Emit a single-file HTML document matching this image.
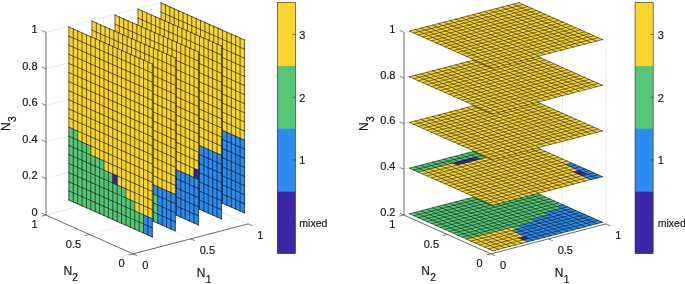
<!DOCTYPE html>
<html><head><meta charset="utf-8"><title>Slices</title>
<style>
html,body{margin:0;padding:0;background:#fff;}
svg{display:block;}
text{font-family:"Liberation Sans",sans-serif;font-size:11px;fill:#1a1a1a;stroke:#1a1a1a;stroke-width:0.2px;}
</style></head><body>
<svg width="685" height="284" viewBox="0 0 685 284">
<rect width="685" height="284" fill="#fff"/>
<line x1="45.9" y1="215" x2="161.1" y2="185" stroke="#dcdcdc" stroke-width="0.5"/>
<line x1="161.1" y1="185" x2="248.2" y2="223.9" stroke="#dcdcdc" stroke-width="0.5"/>
<line x1="45.9" y1="178.46" x2="161.1" y2="148.46" stroke="#dcdcdc" stroke-width="0.5"/>
<line x1="161.1" y1="148.46" x2="248.2" y2="187.36" stroke="#dcdcdc" stroke-width="0.5"/>
<line x1="45.9" y1="141.92" x2="161.1" y2="111.92" stroke="#dcdcdc" stroke-width="0.5"/>
<line x1="161.1" y1="111.92" x2="248.2" y2="150.82" stroke="#dcdcdc" stroke-width="0.5"/>
<line x1="45.9" y1="105.38" x2="161.1" y2="75.38" stroke="#dcdcdc" stroke-width="0.5"/>
<line x1="161.1" y1="75.38" x2="248.2" y2="114.28" stroke="#dcdcdc" stroke-width="0.5"/>
<line x1="45.9" y1="68.84" x2="161.1" y2="38.84" stroke="#dcdcdc" stroke-width="0.5"/>
<line x1="161.1" y1="38.84" x2="248.2" y2="77.74" stroke="#dcdcdc" stroke-width="0.5"/>
<line x1="45.9" y1="32.3" x2="161.1" y2="2.3" stroke="#dcdcdc" stroke-width="0.5"/>
<line x1="161.1" y1="2.3" x2="248.2" y2="41.2" stroke="#dcdcdc" stroke-width="0.5"/>
<line x1="45.9" y1="215" x2="45.9" y2="32.3" stroke="#dcdcdc" stroke-width="0.5"/>
<line x1="248.2" y1="223.9" x2="248.2" y2="41.2" stroke="#dcdcdc" stroke-width="0.5"/>
<line x1="133" y1="253.9" x2="45.9" y2="215" stroke="#dcdcdc" stroke-width="0.5"/>
<line x1="133" y1="253.9" x2="248.2" y2="223.9" stroke="#dcdcdc" stroke-width="0.5"/>
<line x1="103.5" y1="200" x2="103.5" y2="17.3" stroke="#dcdcdc" stroke-width="0.5"/>
<line x1="204.65" y1="204.45" x2="204.65" y2="21.75" stroke="#dcdcdc" stroke-width="0.5"/>
<line x1="190.6" y1="238.9" x2="103.5" y2="200" stroke="#dcdcdc" stroke-width="0.5"/>
<line x1="89.45" y1="234.45" x2="204.65" y2="204.45" stroke="#dcdcdc" stroke-width="0.5"/>
<line x1="161.1" y1="185" x2="161.1" y2="2.3" stroke="#dcdcdc" stroke-width="0.5"/>
<line x1="161.1" y1="185" x2="161.1" y2="2.3" stroke="#dcdcdc" stroke-width="0.5"/>
<line x1="248.2" y1="223.9" x2="161.1" y2="185" stroke="#dcdcdc" stroke-width="0.5"/>
<line x1="45.9" y1="215" x2="161.1" y2="185" stroke="#dcdcdc" stroke-width="0.5"/>
<polygon points="161.05,3 244.46,39.96 244.46,212.95 161.05,176" fill="#f9d52e"/>
<path d="M222.51 130.38L226.9 132.33L226.9 141.44L222.51 139.49ZM226.9 132.33L231.29 134.28L231.29 143.38L226.9 141.44ZM231.29 134.28L235.68 136.22L235.68 145.32L231.29 143.38ZM235.68 136.22L240.07 138.17L240.07 147.27L235.68 145.32ZM240.07 138.17L244.46 140.11L244.46 149.22L240.07 147.27ZM161.05 112.26L165.44 114.2L165.44 123.31L161.05 121.36ZM165.44 114.2L169.83 116.15L169.83 125.25L165.44 123.31ZM169.83 116.15L174.22 118.09L174.22 127.2L169.83 125.25ZM174.22 118.09L178.61 120.04L178.61 129.14L174.22 127.2ZM178.61 120.04L183 121.98L183 131.09L178.61 129.14ZM183 121.98L187.39 123.93L187.39 133.03L183 131.09ZM187.39 123.93L191.78 125.88L191.78 134.98L187.39 133.03ZM191.78 125.88L196.17 127.82L196.17 136.92L191.78 134.98ZM196.17 127.82L200.56 129.76L200.56 138.87L196.17 136.92ZM200.56 129.76L204.95 131.71L204.95 140.81L200.56 138.87ZM204.95 131.71L209.34 133.66L209.34 142.76L204.95 140.81ZM209.34 133.66L213.73 135.6L213.73 144.7L209.34 142.76ZM213.73 135.6L218.12 137.54L218.12 146.65L213.73 144.7ZM218.12 137.54L222.51 139.49L222.51 148.59L218.12 146.65ZM222.51 139.49L226.9 141.44L226.9 150.54L222.51 148.59ZM226.9 141.44L231.29 143.38L231.29 152.48L226.9 150.54ZM231.29 143.38L235.68 145.32L235.68 154.43L231.29 152.48ZM235.68 145.32L240.07 147.27L240.07 156.38L235.68 154.43ZM240.07 147.27L244.46 149.22L244.46 158.32L240.07 156.38ZM161.05 121.36L165.44 123.31L165.44 132.41L161.05 130.47ZM165.44 123.31L169.83 125.25L169.83 134.36L165.44 132.41ZM169.83 125.25L174.22 127.2L174.22 136.31L169.83 134.36ZM174.22 127.2L178.61 129.14L178.61 138.25L174.22 136.31ZM178.61 129.14L183 131.09L183 140.19L178.61 138.25ZM183 131.09L187.39 133.03L187.39 142.14L183 140.19ZM187.39 133.03L191.78 134.98L191.78 144.08L187.39 142.14ZM191.78 134.98L196.17 136.92L196.17 146.03L191.78 144.08ZM196.17 136.92L200.56 138.87L200.56 147.97L196.17 146.03ZM200.56 138.87L204.95 140.81L204.95 149.92L200.56 147.97ZM204.95 140.81L209.34 142.76L209.34 151.87L204.95 149.92ZM209.34 142.76L213.73 144.7L213.73 153.81L209.34 151.87ZM213.73 144.7L218.12 146.65L218.12 155.75L213.73 153.81ZM218.12 146.65L222.51 148.59L222.51 157.7L218.12 155.75ZM222.51 148.59L226.9 150.54L226.9 159.64L222.51 157.7ZM226.9 150.54L231.29 152.48L231.29 161.59L226.9 159.64ZM231.29 152.48L235.68 154.43L235.68 163.53L231.29 161.59ZM235.68 154.43L240.07 156.38L240.07 165.48L235.68 163.53ZM240.07 156.38L244.46 158.32L244.46 167.43L240.07 165.48ZM161.05 130.47L165.44 132.41L165.44 141.52L161.05 139.57ZM165.44 132.41L169.83 134.36L169.83 143.47L165.44 141.52ZM169.83 134.36L174.22 136.31L174.22 145.41L169.83 143.47ZM174.22 136.31L178.61 138.25L178.61 147.35L174.22 145.41ZM178.61 138.25L183 140.19L183 149.3L178.61 147.35ZM183 140.19L187.39 142.14L187.39 151.24L183 149.3ZM187.39 142.14L191.78 144.08L191.78 153.19L187.39 151.24ZM191.78 144.08L196.17 146.03L196.17 155.13L191.78 153.19ZM196.17 146.03L200.56 147.97L200.56 157.08L196.17 155.13ZM200.56 147.97L204.95 149.92L204.95 159.03L200.56 157.08ZM204.95 149.92L209.34 151.87L209.34 160.97L204.95 159.03ZM209.34 151.87L213.73 153.81L213.73 162.91L209.34 160.97ZM213.73 153.81L218.12 155.75L218.12 164.86L213.73 162.91ZM218.12 155.75L222.51 157.7L222.51 166.8L218.12 164.86ZM222.51 157.7L226.9 159.64L226.9 168.75L222.51 166.8ZM226.9 159.64L231.29 161.59L231.29 170.69L226.9 168.75ZM231.29 161.59L235.68 163.53L235.68 172.64L231.29 170.69ZM235.68 163.53L240.07 165.48L240.07 174.59L235.68 172.64ZM240.07 165.48L244.46 167.43L244.46 176.53L240.07 174.59ZM161.05 139.57L165.44 141.52L165.44 150.62L161.05 148.68ZM165.44 141.52L169.83 143.47L169.83 152.57L165.44 150.62ZM169.83 143.47L174.22 145.41L174.22 154.51L169.83 152.57ZM174.22 145.41L178.61 147.35L178.61 156.46L174.22 154.51ZM178.61 147.35L183 149.3L183 158.4L178.61 156.46ZM183 149.3L187.39 151.24L187.39 160.35L183 158.4ZM187.39 151.24L191.78 153.19L191.78 162.3L187.39 160.35ZM191.78 153.19L196.17 155.13L196.17 164.24L191.78 162.3ZM196.17 155.13L200.56 157.08L200.56 166.19L196.17 164.24ZM200.56 157.08L204.95 159.03L204.95 168.13L200.56 166.19ZM204.95 159.03L209.34 160.97L209.34 170.07L204.95 168.13ZM209.34 160.97L213.73 162.91L213.73 172.02L209.34 170.07ZM213.73 162.91L218.12 164.86L218.12 173.96L213.73 172.02ZM218.12 164.86L222.51 166.8L222.51 175.91L218.12 173.96ZM222.51 166.8L226.9 168.75L226.9 177.86L222.51 175.91ZM226.9 168.75L231.29 170.69L231.29 179.8L226.9 177.86ZM231.29 170.69L235.68 172.64L235.68 181.75L231.29 179.8ZM235.68 172.64L240.07 174.59L240.07 183.69L235.68 181.75ZM240.07 174.59L244.46 176.53L244.46 185.63L240.07 183.69ZM161.05 148.68L165.44 150.62L165.44 159.73L161.05 157.78ZM165.44 150.62L169.83 152.57L169.83 161.68L165.44 159.73ZM169.83 152.57L174.22 154.51L174.22 163.62L169.83 161.68ZM174.22 154.51L178.61 156.46L178.61 165.56L174.22 163.62ZM178.61 156.46L183 158.4L183 167.51L178.61 165.56ZM183 158.4L187.39 160.35L187.39 169.45L183 167.51ZM187.39 160.35L191.78 162.3L191.78 171.4L187.39 169.45ZM191.78 162.3L196.17 164.24L196.17 173.34L191.78 171.4ZM196.17 164.24L200.56 166.19L200.56 175.29L196.17 173.34ZM200.56 166.19L204.95 168.13L204.95 177.24L200.56 175.29ZM204.95 168.13L209.34 170.07L209.34 179.18L204.95 177.24ZM209.34 170.07L213.73 172.02L213.73 181.12L209.34 179.18ZM213.73 172.02L218.12 173.96L218.12 183.07L213.73 181.12ZM218.12 173.96L222.51 175.91L222.51 185.01L218.12 183.07ZM222.51 175.91L226.9 177.86L226.9 186.96L222.51 185.01ZM226.9 177.86L231.29 179.8L231.29 188.91L226.9 186.96ZM231.29 179.8L235.68 181.75L235.68 190.85L231.29 188.91ZM235.68 181.75L240.07 183.69L240.07 192.8L235.68 190.85ZM240.07 183.69L244.46 185.63L244.46 194.74L240.07 192.8ZM161.05 157.78L165.44 159.73L165.44 168.83L161.05 166.89ZM165.44 159.73L169.83 161.68L169.83 170.78L165.44 168.83ZM169.83 161.68L174.22 163.62L174.22 172.72L169.83 170.78ZM174.22 163.62L178.61 165.56L178.61 174.67L174.22 172.72ZM178.61 165.56L183 167.51L183 176.61L178.61 174.67ZM183 167.51L187.39 169.45L187.39 178.56L183 176.61ZM187.39 169.45L191.78 171.4L191.78 180.5L187.39 178.56ZM191.78 171.4L196.17 173.34L196.17 182.45L191.78 180.5ZM196.17 173.34L200.56 175.29L200.56 184.39L196.17 182.45ZM200.56 175.29L204.95 177.24L204.95 186.34L200.56 184.39ZM204.95 177.24L209.34 179.18L209.34 188.28L204.95 186.34ZM209.34 179.18L213.73 181.12L213.73 190.23L209.34 188.28ZM213.73 181.12L218.12 183.07L218.12 192.17L213.73 190.23ZM218.12 183.07L222.51 185.01L222.51 194.12L218.12 192.17ZM222.51 185.01L226.9 186.96L226.9 196.06L222.51 194.12ZM226.9 186.96L231.29 188.91L231.29 198.01L226.9 196.06ZM231.29 188.91L235.68 190.85L235.68 199.95L231.29 198.01ZM235.68 190.85L240.07 192.8L240.07 201.9L235.68 199.95ZM240.07 192.8L244.46 194.74L244.46 203.84L240.07 201.9ZM161.05 166.89L165.44 168.83L165.44 177.94L161.05 176ZM165.44 168.83L169.83 170.78L169.83 179.89L165.44 177.94ZM169.83 170.78L174.22 172.72L174.22 181.83L169.83 179.89ZM174.22 172.72L178.61 174.67L178.61 183.78L174.22 181.83ZM178.61 174.67L183 176.61L183 185.72L178.61 183.78ZM183 176.61L187.39 178.56L187.39 187.66L183 185.72ZM187.39 178.56L191.78 180.5L191.78 189.61L187.39 187.66ZM191.78 180.5L196.17 182.45L196.17 191.56L191.78 189.61ZM196.17 182.45L200.56 184.39L200.56 193.5L196.17 191.56ZM200.56 184.39L204.95 186.34L204.95 195.45L200.56 193.5ZM204.95 186.34L209.34 188.28L209.34 197.39L204.95 195.45ZM209.34 188.28L213.73 190.23L213.73 199.34L209.34 197.39ZM213.73 190.23L218.12 192.17L218.12 201.28L213.73 199.34ZM218.12 192.17L222.51 194.12L222.51 203.22L218.12 201.28ZM222.51 194.12L226.9 196.06L226.9 205.17L222.51 203.22ZM226.9 196.06L231.29 198.01L231.29 207.12L226.9 205.17ZM231.29 198.01L235.68 199.95L235.68 209.06L231.29 207.12ZM235.68 199.95L240.07 201.9L240.07 211.01L235.68 209.06ZM240.07 201.9L244.46 203.84L244.46 212.95L240.07 211.01Z" fill="#2d8cf0" stroke="#2d8cf0" stroke-width="0.3"/>
<path d="M244.46 212.95L161.05 176M244.46 203.84L161.05 166.89M244.46 194.74L161.05 157.78M244.46 185.63L161.05 148.68M244.46 176.53L161.05 139.57M244.46 167.43L161.05 130.47M244.46 158.32L161.05 121.36M244.46 149.22L161.05 112.26M244.46 140.11L161.05 103.16M244.46 131L161.05 94.05M244.46 121.9L161.05 84.94M244.46 112.79L161.05 75.84M244.46 103.69L161.05 66.73M244.46 94.58L161.05 57.63M244.46 85.48L161.05 48.53M244.46 76.38L161.05 39.42M244.46 67.27L161.05 30.31M244.46 58.17L161.05 21.21M244.46 49.06L161.05 12.1M244.46 39.96L161.05 3M244.46 212.95L244.46 39.96M240.07 211.01L240.07 38.01M235.68 209.06L235.68 36.06M231.29 207.12L231.29 34.12M226.9 205.17L226.9 32.18M222.51 203.22L222.51 30.23M218.12 201.28L218.12 28.28M213.73 199.34L213.73 26.34M209.34 197.39L209.34 24.4M204.95 195.45L204.95 22.45M200.56 193.5L200.56 20.5M196.17 191.56L196.17 18.56M191.78 189.61L191.78 16.62M187.39 187.66L187.39 14.67M183 185.72L183 12.72M178.61 183.78L178.61 10.78M174.22 181.83L174.22 8.84M169.83 179.89L169.83 6.89M165.44 177.94L165.44 4.94M161.05 176L161.05 3" fill="none" stroke="#000" stroke-width="0.6" stroke-linecap="square"/>
<polygon points="138.01,9 221.42,45.96 221.42,218.95 138.01,182" fill="#f9d52e"/>
<path d="M199.47 145.49L203.86 147.44L203.86 156.54L199.47 154.59ZM203.86 147.44L208.25 149.38L208.25 158.48L203.86 156.54ZM208.25 149.38L212.64 151.32L212.64 160.43L208.25 158.48ZM212.64 151.32L217.03 153.27L217.03 162.38L212.64 160.43ZM217.03 153.27L221.42 155.22L221.42 164.32L217.03 162.38ZM138.01 127.36L142.4 129.31L142.4 138.41L138.01 136.47ZM142.4 129.31L146.79 131.25L146.79 140.36L142.4 138.41ZM146.79 131.25L151.18 133.2L151.18 142.31L146.79 140.36ZM151.18 133.2L155.57 135.14L155.57 144.25L151.18 142.31ZM155.57 135.14L159.96 137.09L159.96 146.19L155.57 144.25ZM159.96 137.09L164.35 139.03L164.35 148.14L159.96 146.19ZM164.35 139.03L168.74 140.98L168.74 150.08L164.35 148.14ZM168.74 140.98L173.13 142.92L173.13 152.03L168.74 150.08ZM173.13 142.92L177.52 144.87L177.52 153.97L173.13 152.03ZM177.52 144.87L181.91 146.81L181.91 155.92L177.52 153.97ZM181.91 146.81L186.3 148.76L186.3 157.87L181.91 155.92ZM186.3 148.76L190.69 150.7L190.69 159.81L186.3 157.87ZM190.69 150.7L195.08 152.65L195.08 161.75L190.69 159.81ZM195.08 152.65L199.47 154.59L199.47 163.7L195.08 161.75ZM199.47 154.59L203.86 156.54L203.86 165.64L199.47 163.7ZM203.86 156.54L208.25 158.48L208.25 167.59L203.86 165.64ZM208.25 158.48L212.64 160.43L212.64 169.53L208.25 167.59ZM212.64 160.43L217.03 162.38L217.03 171.48L212.64 169.53ZM217.03 162.38L221.42 164.32L221.42 173.43L217.03 171.48ZM138.01 136.47L142.4 138.41L142.4 147.52L138.01 145.57ZM142.4 138.41L146.79 140.36L146.79 149.47L142.4 147.52ZM146.79 140.36L151.18 142.31L151.18 151.41L146.79 149.47ZM151.18 142.31L155.57 144.25L155.57 153.35L151.18 151.41ZM155.57 144.25L159.96 146.19L159.96 155.3L155.57 153.35ZM159.96 146.19L164.35 148.14L164.35 157.24L159.96 155.3ZM164.35 148.14L168.74 150.08L168.74 159.19L164.35 157.24ZM168.74 150.08L173.13 152.03L173.13 161.13L168.74 159.19ZM173.13 152.03L177.52 153.97L177.52 163.08L173.13 161.13ZM177.52 153.97L181.91 155.92L181.91 165.03L177.52 163.08ZM181.91 155.92L186.3 157.87L186.3 166.97L181.91 165.03ZM186.3 157.87L190.69 159.81L190.69 168.91L186.3 166.97ZM190.69 159.81L195.08 161.75L195.08 170.86L190.69 168.91ZM195.08 161.75L199.47 163.7L199.47 172.8L195.08 170.86ZM199.47 163.7L203.86 165.64L203.86 174.75L199.47 172.8ZM203.86 165.64L208.25 167.59L208.25 176.69L203.86 174.75ZM208.25 167.59L212.64 169.53L212.64 178.64L208.25 176.69ZM212.64 169.53L217.03 171.48L217.03 180.59L212.64 178.64ZM217.03 171.48L221.42 173.43L221.42 182.53L217.03 180.59ZM138.01 145.57L142.4 147.52L142.4 156.62L138.01 154.68ZM142.4 147.52L146.79 149.47L146.79 158.57L142.4 156.62ZM146.79 149.47L151.18 151.41L151.18 160.51L146.79 158.57ZM151.18 151.41L155.57 153.35L155.57 162.46L151.18 160.51ZM155.57 153.35L159.96 155.3L159.96 164.4L155.57 162.46ZM159.96 155.3L164.35 157.24L164.35 166.35L159.96 164.4ZM164.35 157.24L168.74 159.19L168.74 168.3L164.35 166.35ZM168.74 159.19L173.13 161.13L173.13 170.24L168.74 168.3ZM173.13 161.13L177.52 163.08L177.52 172.19L173.13 170.24ZM177.52 163.08L181.91 165.03L181.91 174.13L177.52 172.19ZM181.91 165.03L186.3 166.97L186.3 176.07L181.91 174.13ZM186.3 166.97L190.69 168.91L190.69 178.02L186.3 176.07ZM190.69 168.91L195.08 170.86L195.08 179.96L190.69 178.02ZM195.08 170.86L199.47 172.8L199.47 181.91L195.08 179.96ZM199.47 172.8L203.86 174.75L203.86 183.86L199.47 181.91ZM203.86 174.75L208.25 176.69L208.25 185.8L203.86 183.86ZM208.25 176.69L212.64 178.64L212.64 187.75L208.25 185.8ZM212.64 178.64L217.03 180.59L217.03 189.69L212.64 187.75ZM217.03 180.59L221.42 182.53L221.42 191.63L217.03 189.69ZM138.01 154.68L142.4 156.62L142.4 165.73L138.01 163.78ZM142.4 156.62L146.79 158.57L146.79 167.68L142.4 165.73ZM146.79 158.57L151.18 160.51L151.18 169.62L146.79 167.68ZM151.18 160.51L155.57 162.46L155.57 171.56L151.18 169.62ZM155.57 162.46L159.96 164.4L159.96 173.51L155.57 171.56ZM159.96 164.4L164.35 166.35L164.35 175.45L159.96 173.51ZM164.35 166.35L168.74 168.3L168.74 177.4L164.35 175.45ZM168.74 168.3L173.13 170.24L173.13 179.34L168.74 177.4ZM173.13 170.24L177.52 172.19L177.52 181.29L173.13 179.34ZM177.52 172.19L181.91 174.13L181.91 183.24L177.52 181.29ZM181.91 174.13L186.3 176.07L186.3 185.18L181.91 183.24ZM186.3 176.07L190.69 178.02L190.69 187.12L186.3 185.18ZM190.69 178.02L195.08 179.96L195.08 189.07L190.69 187.12ZM195.08 179.96L199.47 181.91L199.47 191.01L195.08 189.07ZM199.47 181.91L203.86 183.86L203.86 192.96L199.47 191.01ZM203.86 183.86L208.25 185.8L208.25 194.91L203.86 192.96ZM208.25 185.8L212.64 187.75L212.64 196.85L208.25 194.91ZM212.64 187.75L217.03 189.69L217.03 198.8L212.64 196.85ZM217.03 189.69L221.42 191.63L221.42 200.74L217.03 198.8ZM138.01 163.78L142.4 165.73L142.4 174.83L138.01 172.89ZM142.4 165.73L146.79 167.68L146.79 176.78L142.4 174.83ZM146.79 167.68L151.18 169.62L151.18 178.72L146.79 176.78ZM151.18 169.62L155.57 171.56L155.57 180.67L151.18 178.72ZM155.57 171.56L159.96 173.51L159.96 182.61L155.57 180.67ZM159.96 173.51L164.35 175.45L164.35 184.56L159.96 182.61ZM164.35 175.45L168.74 177.4L168.74 186.5L164.35 184.56ZM168.74 177.4L173.13 179.34L173.13 188.45L168.74 186.5ZM173.13 179.34L177.52 181.29L177.52 190.39L173.13 188.45ZM177.52 181.29L181.91 183.24L181.91 192.34L177.52 190.39ZM181.91 183.24L186.3 185.18L186.3 194.28L181.91 192.34ZM186.3 185.18L190.69 187.12L190.69 196.23L186.3 194.28ZM190.69 187.12L195.08 189.07L195.08 198.17L190.69 196.23ZM195.08 189.07L199.47 191.01L199.47 200.12L195.08 198.17ZM199.47 191.01L203.86 192.96L203.86 202.06L199.47 200.12ZM203.86 192.96L208.25 194.91L208.25 204.01L203.86 202.06ZM208.25 194.91L212.64 196.85L212.64 205.95L208.25 204.01ZM212.64 196.85L217.03 198.8L217.03 207.9L212.64 205.95ZM217.03 198.8L221.42 200.74L221.42 209.84L217.03 207.9ZM138.01 172.89L142.4 174.83L142.4 183.94L138.01 182ZM142.4 174.83L146.79 176.78L146.79 185.89L142.4 183.94ZM146.79 176.78L151.18 178.72L151.18 187.83L146.79 185.89ZM151.18 178.72L155.57 180.67L155.57 189.78L151.18 187.83ZM155.57 180.67L159.96 182.61L159.96 191.72L155.57 189.78ZM159.96 182.61L164.35 184.56L164.35 193.66L159.96 191.72ZM164.35 184.56L168.74 186.5L168.74 195.61L164.35 193.66ZM168.74 186.5L173.13 188.45L173.13 197.56L168.74 195.61ZM173.13 188.45L177.52 190.39L177.52 199.5L173.13 197.56ZM177.52 190.39L181.91 192.34L181.91 201.45L177.52 199.5ZM181.91 192.34L186.3 194.28L186.3 203.39L181.91 201.45ZM186.3 194.28L190.69 196.23L190.69 205.34L186.3 203.39ZM190.69 196.23L195.08 198.17L195.08 207.28L190.69 205.34ZM195.08 198.17L199.47 200.12L199.47 209.22L195.08 207.28ZM199.47 200.12L203.86 202.06L203.86 211.17L199.47 209.22ZM203.86 202.06L208.25 204.01L208.25 213.12L203.86 211.17ZM208.25 204.01L212.64 205.95L212.64 215.06L208.25 213.12ZM212.64 205.95L217.03 207.9L217.03 217.01L212.64 215.06ZM217.03 207.9L221.42 209.84L221.42 218.95L217.03 217.01Z" fill="#2d8cf0" stroke="#2d8cf0" stroke-width="0.3"/>
<path d="M221.42 218.95L138.01 182M221.42 209.84L138.01 172.89M221.42 200.74L138.01 163.78M221.42 191.63L138.01 154.68M221.42 182.53L138.01 145.57M221.42 173.43L138.01 136.47M221.42 164.32L138.01 127.36M221.42 155.22L138.01 118.26M221.42 146.11L138.01 109.16M221.42 137L138.01 100.05M221.42 127.9L138.01 90.94M221.42 118.79L138.01 81.84M221.42 109.69L138.01 72.73M221.42 100.58L138.01 63.63M221.42 91.48L138.01 54.53M221.42 82.38L138.01 45.42M221.42 73.27L138.01 36.31M221.42 64.17L138.01 27.21M221.42 55.06L138.01 18.1M221.42 45.96L138.01 9M221.42 218.95L221.42 45.96M217.03 217.01L217.03 44.01M212.64 215.06L212.64 42.06M208.25 213.12L208.25 40.12M203.86 211.17L203.86 38.18M199.47 209.22L199.47 36.23M195.08 207.28L195.08 34.28M190.69 205.34L190.69 32.34M186.3 203.39L186.3 30.4M181.91 201.45L181.91 28.45M177.52 199.5L177.52 26.5M173.13 197.56L173.13 24.56M168.74 195.61L168.74 22.62M164.35 193.66L164.35 20.67M159.96 191.72L159.96 18.72M155.57 189.78L155.57 16.78M151.18 187.83L151.18 14.84M146.79 185.89L146.79 12.89M142.4 183.94L142.4 10.94M138.01 182L138.01 9" fill="none" stroke="#000" stroke-width="0.6" stroke-linecap="square"/>
<polygon points="114.97,15 198.38,51.96 198.38,224.95 114.97,188" fill="#f9d52e"/>
<path d="M193.99 168.38L198.38 170.32L198.38 179.43L193.99 177.48Z" fill="#3d26a8" stroke="#3d26a8" stroke-width="0.3"/>
<path d="M158.87 161.92L163.26 163.87L163.26 172.97L158.87 171.03ZM163.26 163.87L167.65 165.81L167.65 174.91L163.26 172.97ZM167.65 165.81L172.04 167.75L172.04 176.86L167.65 174.91ZM172.04 167.75L176.43 169.7L176.43 178.8L172.04 176.86ZM176.43 169.7L180.82 171.64L180.82 180.75L176.43 178.8ZM180.82 171.64L185.21 173.59L185.21 182.69L180.82 180.75ZM185.21 173.59L189.6 175.53L189.6 184.64L185.21 182.69ZM189.6 175.53L193.99 177.48L193.99 186.59L189.6 184.64ZM193.99 177.48L198.38 179.43L198.38 188.53L193.99 186.59ZM158.87 171.03L163.26 172.97L163.26 182.07L158.87 180.13ZM163.26 172.97L167.65 174.91L167.65 184.02L163.26 182.07ZM167.65 174.91L172.04 176.86L172.04 185.96L167.65 184.02ZM172.04 176.86L176.43 178.8L176.43 187.91L172.04 185.96ZM176.43 178.8L180.82 180.75L180.82 189.86L176.43 187.91ZM180.82 180.75L185.21 182.69L185.21 191.8L180.82 189.86ZM185.21 182.69L189.6 184.64L189.6 193.75L185.21 191.8ZM189.6 184.64L193.99 186.59L193.99 195.69L189.6 193.75ZM193.99 186.59L198.38 188.53L198.38 197.63L193.99 195.69ZM158.87 180.13L163.26 182.07L163.26 191.18L158.87 189.24ZM163.26 182.07L167.65 184.02L167.65 193.12L163.26 191.18ZM167.65 184.02L172.04 185.96L172.04 195.07L167.65 193.12ZM172.04 185.96L176.43 187.91L176.43 197.01L172.04 195.07ZM176.43 187.91L180.82 189.86L180.82 198.96L176.43 197.01ZM180.82 189.86L185.21 191.8L185.21 200.91L180.82 198.96ZM185.21 191.8L189.6 193.75L189.6 202.85L185.21 200.91ZM189.6 193.75L193.99 195.69L193.99 204.8L189.6 202.85ZM193.99 195.69L198.38 197.63L198.38 206.74L193.99 204.8ZM158.87 189.24L163.26 191.18L163.26 200.28L158.87 198.34ZM163.26 191.18L167.65 193.12L167.65 202.23L163.26 200.28ZM167.65 193.12L172.04 195.07L172.04 204.17L167.65 202.23ZM172.04 195.07L176.43 197.01L176.43 206.12L172.04 204.17ZM176.43 197.01L180.82 198.96L180.82 208.06L176.43 206.12ZM180.82 198.96L185.21 200.91L185.21 210.01L180.82 208.06ZM185.21 200.91L189.6 202.85L189.6 211.95L185.21 210.01ZM189.6 202.85L193.99 204.8L193.99 213.9L189.6 211.95ZM193.99 204.8L198.38 206.74L198.38 215.84L193.99 213.9ZM158.87 198.34L163.26 200.28L163.26 209.39L158.87 207.45ZM163.26 200.28L167.65 202.23L167.65 211.34L163.26 209.39ZM167.65 202.23L172.04 204.17L172.04 213.28L167.65 211.34ZM172.04 204.17L176.43 206.12L176.43 215.22L172.04 213.28ZM176.43 206.12L180.82 208.06L180.82 217.17L176.43 215.22ZM180.82 208.06L185.21 210.01L185.21 219.12L180.82 217.17ZM185.21 210.01L189.6 211.95L189.6 221.06L185.21 219.12ZM189.6 211.95L193.99 213.9L193.99 223.01L189.6 221.06ZM193.99 213.9L198.38 215.84L198.38 224.95L193.99 223.01Z" fill="#2d8cf0" stroke="#2d8cf0" stroke-width="0.3"/>
<path d="M114.97 151.57L119.36 153.52L119.36 162.62L114.97 160.68ZM119.36 153.52L123.75 155.47L123.75 164.57L119.36 162.62ZM123.75 155.47L128.14 157.41L128.14 166.51L123.75 164.57ZM128.14 157.41L132.53 159.35L132.53 168.46L128.14 166.51ZM132.53 159.35L136.92 161.3L136.92 170.4L132.53 168.46ZM136.92 161.3L141.31 163.24L141.31 172.35L136.92 170.4ZM141.31 163.24L145.7 165.19L145.7 174.3L141.31 172.35ZM145.7 165.19L150.09 167.13L150.09 176.24L145.7 174.3ZM150.09 167.13L154.48 169.08L154.48 178.19L150.09 176.24ZM154.48 169.08L158.87 171.03L158.87 180.13L154.48 178.19ZM114.97 160.68L119.36 162.62L119.36 171.73L114.97 169.78ZM119.36 162.62L123.75 164.57L123.75 173.68L119.36 171.73ZM123.75 164.57L128.14 166.51L128.14 175.62L123.75 173.68ZM128.14 166.51L132.53 168.46L132.53 177.56L128.14 175.62ZM132.53 168.46L136.92 170.4L136.92 179.51L132.53 177.56ZM136.92 170.4L141.31 172.35L141.31 181.45L136.92 179.51ZM141.31 172.35L145.7 174.3L145.7 183.4L141.31 181.45ZM145.7 174.3L150.09 176.24L150.09 185.34L145.7 183.4ZM150.09 176.24L154.48 178.19L154.48 187.29L150.09 185.34ZM154.48 178.19L158.87 180.13L158.87 189.24L154.48 187.29ZM114.97 169.78L119.36 171.73L119.36 180.83L114.97 178.89ZM119.36 171.73L123.75 173.68L123.75 182.78L119.36 180.83ZM123.75 173.68L128.14 175.62L128.14 184.72L123.75 182.78ZM128.14 175.62L132.53 177.56L132.53 186.67L128.14 184.72ZM132.53 177.56L136.92 179.51L136.92 188.61L132.53 186.67ZM136.92 179.51L141.31 181.45L141.31 190.56L136.92 188.61ZM141.31 181.45L145.7 183.4L145.7 192.5L141.31 190.56ZM145.7 183.4L150.09 185.34L150.09 194.45L145.7 192.5ZM150.09 185.34L154.48 187.29L154.48 196.39L150.09 194.45ZM154.48 187.29L158.87 189.24L158.87 198.34L154.48 196.39ZM114.97 178.89L119.36 180.83L119.36 189.94L114.97 188ZM119.36 180.83L123.75 182.78L123.75 191.89L119.36 189.94ZM123.75 182.78L128.14 184.72L128.14 193.83L123.75 191.89ZM128.14 184.72L132.53 186.67L132.53 195.78L128.14 193.83ZM132.53 186.67L136.92 188.61L136.92 197.72L132.53 195.78ZM136.92 188.61L141.31 190.56L141.31 199.66L136.92 197.72ZM141.31 190.56L145.7 192.5L145.7 201.61L141.31 199.66ZM145.7 192.5L150.09 194.45L150.09 203.56L145.7 201.61ZM150.09 194.45L154.48 196.39L154.48 205.5L150.09 203.56ZM154.48 196.39L158.87 198.34L158.87 207.45L154.48 205.5Z" fill="#55c878" stroke="#55c878" stroke-width="0.3"/>
<path d="M198.38 224.95L114.97 188M198.38 215.84L114.97 178.89M198.38 206.74L114.97 169.78M198.38 197.63L114.97 160.68M198.38 188.53L114.97 151.57M198.38 179.43L114.97 142.47M198.38 170.32L114.97 133.36M198.38 161.22L114.97 124.26M198.38 152.11L114.97 115.16M198.38 143L114.97 106.05M198.38 133.9L114.97 96.94M198.38 124.79L114.97 87.84M198.38 115.69L114.97 78.73M198.38 106.58L114.97 69.63M198.38 97.48L114.97 60.53M198.38 88.38L114.97 51.42M198.38 79.27L114.97 42.31M198.38 70.17L114.97 33.21M198.38 61.06L114.97 24.1M198.38 51.96L114.97 15M198.38 224.95L198.38 51.96M193.99 223.01L193.99 50.01M189.6 221.06L189.6 48.06M185.21 219.12L185.21 46.12M180.82 217.17L180.82 44.18M176.43 215.22L176.43 42.23M172.04 213.28L172.04 40.28M167.65 211.34L167.65 38.34M163.26 209.39L163.26 36.4M158.87 207.45L158.87 34.45M154.48 205.5L154.48 32.5M150.09 203.56L150.09 30.56M145.7 201.61L145.7 28.62M141.31 199.66L141.31 26.67M136.92 197.72L136.92 24.72M132.53 195.78L132.53 22.78M128.14 193.83L128.14 20.84M123.75 191.89L123.75 18.89M119.36 189.94L119.36 16.94M114.97 188L114.97 15" fill="none" stroke="#000" stroke-width="0.6" stroke-linecap="square"/>
<polygon points="91.93,21 175.34,57.96 175.34,230.95 91.93,194" fill="#f9d52e"/>
<path d="M91.93 130.26L96.32 132.2L96.32 141.31L91.93 139.36ZM96.32 132.2L100.71 134.15L100.71 143.25L96.32 141.31ZM91.93 139.36L96.32 141.31L96.32 150.41L91.93 148.47ZM96.32 141.31L100.71 143.25L100.71 152.36L96.32 150.41ZM100.71 143.25L105.1 145.2L105.1 154.31L100.71 152.36ZM105.1 145.2L109.49 147.14L109.49 156.25L105.1 154.31ZM109.49 147.14L113.88 149.09L113.88 158.19L109.49 156.25ZM91.93 148.47L96.32 150.41L96.32 159.52L91.93 157.57ZM96.32 150.41L100.71 152.36L100.71 161.47L96.32 159.52ZM100.71 152.36L105.1 154.31L105.1 163.41L100.71 161.47ZM105.1 154.31L109.49 156.25L109.49 165.35L105.1 163.41ZM109.49 156.25L113.88 158.19L113.88 167.3L109.49 165.35ZM113.88 158.19L118.27 160.14L118.27 169.24L113.88 167.3ZM118.27 160.14L122.66 162.08L122.66 171.19L118.27 169.24ZM122.66 162.08L127.05 164.03L127.05 173.13L122.66 171.19ZM91.93 157.57L96.32 159.52L96.32 168.62L91.93 166.68ZM96.32 159.52L100.71 161.47L100.71 170.57L96.32 168.62ZM100.71 161.47L105.1 163.41L105.1 172.51L100.71 170.57ZM105.1 163.41L109.49 165.35L109.49 174.46L105.1 172.51ZM109.49 165.35L113.88 167.3L113.88 176.4L109.49 174.46ZM113.88 167.3L118.27 169.24L118.27 178.35L113.88 176.4ZM118.27 169.24L122.66 171.19L122.66 180.3L118.27 178.35ZM122.66 171.19L127.05 173.13L127.05 182.24L122.66 180.3ZM127.05 173.13L131.44 175.08L131.44 184.19L127.05 182.24ZM131.44 175.08L135.83 177.03L135.83 186.13L131.44 184.19ZM91.93 166.68L96.32 168.62L96.32 177.73L91.93 175.78ZM96.32 168.62L100.71 170.57L100.71 179.68L96.32 177.73ZM100.71 170.57L105.1 172.51L105.1 181.62L100.71 179.68ZM105.1 172.51L109.49 174.46L109.49 183.56L105.1 181.62ZM109.49 174.46L113.88 176.4L113.88 185.51L109.49 183.56ZM113.88 176.4L118.27 178.35L118.27 187.45L113.88 185.51ZM118.27 178.35L122.66 180.3L122.66 189.4L118.27 187.45ZM122.66 180.3L127.05 182.24L127.05 191.34L122.66 189.4ZM127.05 182.24L131.44 184.19L131.44 193.29L127.05 191.34ZM131.44 184.19L135.83 186.13L135.83 195.24L131.44 193.29ZM135.83 186.13L140.22 188.07L140.22 197.18L135.83 195.24ZM140.22 188.07L144.61 190.02L144.61 199.12L140.22 197.18ZM144.61 190.02L149 191.96L149 201.07L144.61 199.12ZM153.39 193.91L157.78 195.86L157.78 204.96L153.39 203.01ZM91.93 175.78L96.32 177.73L96.32 186.83L91.93 184.89ZM96.32 177.73L100.71 179.68L100.71 188.78L96.32 186.83ZM100.71 179.68L105.1 181.62L105.1 190.72L100.71 188.78ZM105.1 181.62L109.49 183.56L109.49 192.67L105.1 190.72ZM109.49 183.56L113.88 185.51L113.88 194.61L109.49 192.67ZM113.88 185.51L118.27 187.45L118.27 196.56L113.88 194.61ZM118.27 187.45L122.66 189.4L122.66 198.5L118.27 196.56ZM122.66 189.4L127.05 191.34L127.05 200.45L122.66 198.5ZM127.05 191.34L131.44 193.29L131.44 202.39L127.05 200.45ZM131.44 193.29L135.83 195.24L135.83 204.34L131.44 202.39ZM135.83 195.24L140.22 197.18L140.22 206.28L135.83 204.34ZM140.22 197.18L144.61 199.12L144.61 208.23L140.22 206.28ZM144.61 199.12L149 201.07L149 210.17L144.61 208.23ZM149 201.07L153.39 203.01L153.39 212.12L149 210.17ZM153.39 203.01L157.78 204.96L157.78 214.06L153.39 212.12ZM91.93 184.89L96.32 186.83L96.32 195.94L91.93 194ZM96.32 186.83L100.71 188.78L100.71 197.89L96.32 195.94ZM100.71 188.78L105.1 190.72L105.1 199.83L100.71 197.89ZM105.1 190.72L109.49 192.67L109.49 201.78L105.1 199.83ZM109.49 192.67L113.88 194.61L113.88 203.72L109.49 201.78ZM113.88 194.61L118.27 196.56L118.27 205.66L113.88 203.72ZM118.27 196.56L122.66 198.5L122.66 207.61L118.27 205.66ZM122.66 198.5L127.05 200.45L127.05 209.56L122.66 207.61ZM127.05 200.45L131.44 202.39L131.44 211.5L127.05 209.56ZM131.44 202.39L135.83 204.34L135.83 213.45L131.44 211.5ZM135.83 204.34L140.22 206.28L140.22 215.39L135.83 213.45ZM140.22 206.28L144.61 208.23L144.61 217.34L140.22 215.39ZM144.61 208.23L149 210.17L149 219.28L144.61 217.34ZM149 210.17L153.39 212.12L153.39 221.22L149 219.28ZM153.39 212.12L157.78 214.06L157.78 223.17L153.39 221.22Z" fill="#55c878" stroke="#55c878" stroke-width="0.3"/>
<path d="M153.39 184.8L157.78 186.75L157.78 195.86L153.39 193.91ZM157.78 186.75L162.17 188.69L162.17 197.8L157.78 195.86ZM162.17 188.69L166.56 190.64L166.56 199.75L162.17 197.8ZM166.56 190.64L170.95 192.59L170.95 201.69L166.56 199.75ZM170.95 192.59L175.34 194.53L175.34 203.63L170.95 201.69ZM157.78 195.86L162.17 197.8L162.17 206.91L157.78 204.96ZM162.17 197.8L166.56 199.75L166.56 208.85L162.17 206.91ZM166.56 199.75L170.95 201.69L170.95 210.8L166.56 208.85ZM170.95 201.69L175.34 203.63L175.34 212.74L170.95 210.8ZM157.78 204.96L162.17 206.91L162.17 216.01L157.78 214.06ZM162.17 206.91L166.56 208.85L166.56 217.95L162.17 216.01ZM166.56 208.85L170.95 210.8L170.95 219.9L166.56 217.95ZM170.95 210.8L175.34 212.74L175.34 221.84L170.95 219.9ZM157.78 214.06L162.17 216.01L162.17 225.12L157.78 223.17ZM162.17 216.01L166.56 217.95L166.56 227.06L162.17 225.12ZM166.56 217.95L170.95 219.9L170.95 229.01L166.56 227.06ZM170.95 219.9L175.34 221.84L175.34 230.95L170.95 229.01Z" fill="#2d8cf0" stroke="#2d8cf0" stroke-width="0.3"/>
<path d="M175.34 230.95L91.93 194M175.34 221.84L91.93 184.89M175.34 212.74L91.93 175.78M175.34 203.63L91.93 166.68M175.34 194.53L91.93 157.57M175.34 185.43L91.93 148.47M175.34 176.32L91.93 139.36M175.34 167.22L91.93 130.26M175.34 158.11L91.93 121.16M175.34 149L91.93 112.05M175.34 139.9L91.93 102.94M175.34 130.79L91.93 93.84M175.34 121.69L91.93 84.73M175.34 112.58L91.93 75.63M175.34 103.48L91.93 66.53M175.34 94.38L91.93 57.42M175.34 85.27L91.93 48.31M175.34 76.17L91.93 39.21M175.34 67.06L91.93 30.1M175.34 57.96L91.93 21M175.34 230.95L175.34 57.96M170.95 229.01L170.95 56.01M166.56 227.06L166.56 54.06M162.17 225.12L162.17 52.12M157.78 223.17L157.78 50.18M153.39 221.22L153.39 48.23M149 219.28L149 46.28M144.61 217.34L144.61 44.34M140.22 215.39L140.22 42.4M135.83 213.45L135.83 40.45M131.44 211.5L131.44 38.5M127.05 209.56L127.05 36.56M122.66 207.61L122.66 34.62M118.27 205.66L118.27 32.67M113.88 203.72L113.88 30.72M109.49 201.78L109.49 28.78M105.1 199.83L105.1 26.84M100.71 197.89L100.71 24.89M96.32 195.94L96.32 22.94M91.93 194L91.93 21" fill="none" stroke="#000" stroke-width="0.6" stroke-linecap="square"/>
<polygon points="68.89,27 152.3,63.96 152.3,236.95 68.89,200" fill="#f9d52e"/>
<path d="M68.89 127.16L73.28 129.1L73.28 138.2L68.89 136.26ZM73.28 129.1L77.67 131.05L77.67 140.15L73.28 138.2ZM68.89 136.26L73.28 138.2L73.28 147.31L68.89 145.36ZM73.28 138.2L77.67 140.15L77.67 149.25L73.28 147.31ZM77.67 140.15L82.06 142.09L82.06 151.2L77.67 149.25ZM82.06 142.09L86.45 144.04L86.45 153.14L82.06 151.2ZM86.45 144.04L90.84 145.98L90.84 155.09L86.45 153.14ZM68.89 145.36L73.28 147.31L73.28 156.41L68.89 154.47ZM73.28 147.31L77.67 149.25L77.67 158.36L73.28 156.41ZM77.67 149.25L82.06 151.2L82.06 160.31L77.67 158.36ZM82.06 151.2L86.45 153.14L86.45 162.25L82.06 160.31ZM86.45 153.14L90.84 155.09L90.84 164.19L86.45 162.25ZM90.84 155.09L95.23 157.03L95.23 166.14L90.84 164.19ZM95.23 157.03L99.62 158.98L99.62 168.08L95.23 166.14ZM99.62 158.98L104.01 160.92L104.01 170.03L99.62 168.08ZM68.89 154.47L73.28 156.41L73.28 165.52L68.89 163.57ZM73.28 156.41L77.67 158.36L77.67 167.47L73.28 165.52ZM77.67 158.36L82.06 160.31L82.06 169.41L77.67 167.47ZM82.06 160.31L86.45 162.25L86.45 171.35L82.06 169.41ZM86.45 162.25L90.84 164.19L90.84 173.3L86.45 171.35ZM90.84 164.19L95.23 166.14L95.23 175.24L90.84 173.3ZM95.23 166.14L99.62 168.08L99.62 177.19L95.23 175.24ZM99.62 168.08L104.01 170.03L104.01 179.13L99.62 177.19ZM104.01 170.03L108.4 171.97L108.4 181.08L104.01 179.13ZM108.4 171.97L112.79 173.92L112.79 183.03L108.4 181.08ZM68.89 163.57L73.28 165.52L73.28 174.62L68.89 172.68ZM73.28 165.52L77.67 167.47L77.67 176.57L73.28 174.62ZM77.67 167.47L82.06 169.41L82.06 178.51L77.67 176.57ZM82.06 169.41L86.45 171.35L86.45 180.46L82.06 178.51ZM86.45 171.35L90.84 173.3L90.84 182.4L86.45 180.46ZM90.84 173.3L95.23 175.24L95.23 184.35L90.84 182.4ZM95.23 175.24L99.62 177.19L99.62 186.3L95.23 184.35ZM99.62 177.19L104.01 179.13L104.01 188.24L99.62 186.3ZM104.01 179.13L108.4 181.08L108.4 190.19L104.01 188.24ZM108.4 181.08L112.79 183.03L112.79 192.13L108.4 190.19ZM112.79 183.03L117.18 184.97L117.18 194.07L112.79 192.13ZM117.18 184.97L121.57 186.91L121.57 196.02L117.18 194.07ZM121.57 186.91L125.96 188.86L125.96 197.96L121.57 196.02ZM68.89 172.68L73.28 174.62L73.28 183.73L68.89 181.78ZM73.28 174.62L77.67 176.57L77.67 185.68L73.28 183.73ZM77.67 176.57L82.06 178.51L82.06 187.62L77.67 185.68ZM82.06 178.51L86.45 180.46L86.45 189.56L82.06 187.62ZM86.45 180.46L90.84 182.4L90.84 191.51L86.45 189.56ZM90.84 182.4L95.23 184.35L95.23 193.45L90.84 191.51ZM95.23 184.35L99.62 186.3L99.62 195.4L95.23 193.45ZM99.62 186.3L104.01 188.24L104.01 197.34L99.62 195.4ZM104.01 188.24L108.4 190.19L108.4 199.29L104.01 197.34ZM108.4 190.19L112.79 192.13L112.79 201.24L108.4 199.29ZM112.79 192.13L117.18 194.07L117.18 203.18L112.79 201.24ZM117.18 194.07L121.57 196.02L121.57 205.12L117.18 203.18ZM121.57 196.02L125.96 197.96L125.96 207.07L121.57 205.12ZM125.96 197.96L130.35 199.91L130.35 209.01L125.96 207.07ZM130.35 199.91L134.74 201.86L134.74 210.96L130.35 209.01ZM68.89 181.78L73.28 183.73L73.28 192.83L68.89 190.89ZM73.28 183.73L77.67 185.68L77.67 194.78L73.28 192.83ZM77.67 185.68L82.06 187.62L82.06 196.72L77.67 194.78ZM82.06 187.62L86.45 189.56L86.45 198.67L82.06 196.72ZM86.45 189.56L90.84 191.51L90.84 200.61L86.45 198.67ZM90.84 191.51L95.23 193.45L95.23 202.56L90.84 200.61ZM95.23 193.45L99.62 195.4L99.62 204.5L95.23 202.56ZM99.62 195.4L104.01 197.34L104.01 206.45L99.62 204.5ZM104.01 197.34L108.4 199.29L108.4 208.39L104.01 206.45ZM108.4 199.29L112.79 201.24L112.79 210.34L108.4 208.39ZM112.79 201.24L117.18 203.18L117.18 212.28L112.79 210.34ZM117.18 203.18L121.57 205.12L121.57 214.23L117.18 212.28ZM121.57 205.12L125.96 207.07L125.96 216.17L121.57 214.23ZM125.96 207.07L130.35 209.01L130.35 218.12L125.96 216.17ZM130.35 209.01L134.74 210.96L134.74 220.06L130.35 218.12ZM134.74 210.96L139.13 212.91L139.13 222.01L134.74 220.06ZM139.13 212.91L143.52 214.85L143.52 223.95L139.13 222.01ZM68.89 190.89L73.28 192.83L73.28 201.94L68.89 200ZM73.28 192.83L77.67 194.78L77.67 203.89L73.28 201.94ZM77.67 194.78L82.06 196.72L82.06 205.83L77.67 203.89ZM82.06 196.72L86.45 198.67L86.45 207.78L82.06 205.83ZM86.45 198.67L90.84 200.61L90.84 209.72L86.45 207.78ZM90.84 200.61L95.23 202.56L95.23 211.66L90.84 209.72ZM95.23 202.56L99.62 204.5L99.62 213.61L95.23 211.66ZM99.62 204.5L104.01 206.45L104.01 215.56L99.62 213.61ZM104.01 206.45L108.4 208.39L108.4 217.5L104.01 215.56ZM108.4 208.39L112.79 210.34L112.79 219.45L108.4 217.5ZM112.79 210.34L117.18 212.28L117.18 221.39L112.79 219.45ZM117.18 212.28L121.57 214.23L121.57 223.34L117.18 221.39ZM121.57 214.23L125.96 216.17L125.96 225.28L121.57 223.34ZM125.96 216.17L130.35 218.12L130.35 227.22L125.96 225.28ZM130.35 218.12L134.74 220.06L134.74 229.17L130.35 227.22ZM134.74 220.06L139.13 222.01L139.13 231.12L134.74 229.17ZM139.13 222.01L143.52 223.95L143.52 233.06L139.13 231.12Z" fill="#55c878" stroke="#55c878" stroke-width="0.3"/>
<path d="M112.79 173.92L117.18 175.87L117.18 184.97L112.79 183.03Z" fill="#3d26a8" stroke="#3d26a8" stroke-width="0.3"/>
<path d="M143.52 214.85L147.91 216.8L147.91 225.9L143.52 223.95ZM147.91 216.8L152.3 218.74L152.3 227.84L147.91 225.9ZM143.52 223.95L147.91 225.9L147.91 235.01L143.52 233.06ZM147.91 225.9L152.3 227.84L152.3 236.95L147.91 235.01Z" fill="#2d8cf0" stroke="#2d8cf0" stroke-width="0.3"/>
<path d="M152.3 236.95L68.89 200M152.3 227.84L68.89 190.89M152.3 218.74L68.89 181.78M152.3 209.63L68.89 172.68M152.3 200.53L68.89 163.57M152.3 191.43L68.89 154.47M152.3 182.32L68.89 145.36M152.3 173.22L68.89 136.26M152.3 164.11L68.89 127.16M152.3 155L68.89 118.05M152.3 145.9L68.89 108.94M152.3 136.79L68.89 99.84M152.3 127.69L68.89 90.73M152.3 118.58L68.89 81.63M152.3 109.48L68.89 72.53M152.3 100.38L68.89 63.42M152.3 91.27L68.89 54.31M152.3 82.17L68.89 45.21M152.3 73.06L68.89 36.1M152.3 63.96L68.89 27M152.3 236.95L152.3 63.96M147.91 235.01L147.91 62.01M143.52 233.06L143.52 60.06M139.13 231.12L139.13 58.12M134.74 229.17L134.74 56.18M130.35 227.22L130.35 54.23M125.96 225.28L125.96 52.28M121.57 223.34L121.57 50.34M117.18 221.39L117.18 48.4M112.79 219.45L112.79 46.45M108.4 217.5L108.4 44.5M104.01 215.56L104.01 42.56M99.62 213.61L99.62 40.62M95.23 211.66L95.23 38.67M90.84 209.72L90.84 36.72M86.45 207.78L86.45 34.78M82.06 205.83L82.06 32.84M77.67 203.89L77.67 30.89M73.28 201.94L73.28 28.94M68.89 200L68.89 27" fill="none" stroke="#000" stroke-width="0.6" stroke-linecap="square"/>
<line x1="46" y1="215" x2="46" y2="32.3" stroke="#262626" stroke-width="0.64"/>
<line x1="133" y1="253.9" x2="45.9" y2="215" stroke="#262626" stroke-width="0.65"/>
<line x1="133" y1="253.9" x2="248.2" y2="223.9" stroke="#262626" stroke-width="0.65"/>
<line x1="45.9" y1="215" x2="41.7" y2="213.12" stroke="#262626" stroke-width="0.6"/>
<line x1="45.9" y1="178.46" x2="41.7" y2="176.58" stroke="#262626" stroke-width="0.6"/>
<line x1="45.9" y1="141.92" x2="41.7" y2="140.04" stroke="#262626" stroke-width="0.6"/>
<line x1="45.9" y1="105.38" x2="41.7" y2="103.5" stroke="#262626" stroke-width="0.6"/>
<line x1="45.9" y1="68.84" x2="41.7" y2="66.96" stroke="#262626" stroke-width="0.6"/>
<line x1="45.9" y1="32.3" x2="41.7" y2="30.42" stroke="#262626" stroke-width="0.6"/>
<line x1="133" y1="253.9" x2="128.55" y2="255.06" stroke="#262626" stroke-width="0.6"/>
<line x1="89.45" y1="234.45" x2="85" y2="235.61" stroke="#262626" stroke-width="0.6"/>
<line x1="45.9" y1="215" x2="41.45" y2="216.16" stroke="#262626" stroke-width="0.6"/>
<line x1="133" y1="253.9" x2="137.2" y2="255.78" stroke="#262626" stroke-width="0.6"/>
<line x1="190.6" y1="238.9" x2="194.8" y2="240.78" stroke="#262626" stroke-width="0.6"/>
<line x1="248.2" y1="223.9" x2="252.4" y2="225.78" stroke="#262626" stroke-width="0.6"/>
<line x1="403.8" y1="215" x2="519" y2="185" stroke="#dcdcdc" stroke-width="0.5"/>
<line x1="519" y1="185" x2="606.1" y2="223.9" stroke="#dcdcdc" stroke-width="0.5"/>
<line x1="403.8" y1="169.32" x2="519" y2="139.32" stroke="#dcdcdc" stroke-width="0.5"/>
<line x1="519" y1="139.32" x2="606.1" y2="178.23" stroke="#dcdcdc" stroke-width="0.5"/>
<line x1="403.8" y1="123.65" x2="519" y2="93.65" stroke="#dcdcdc" stroke-width="0.5"/>
<line x1="519" y1="93.65" x2="606.1" y2="132.55" stroke="#dcdcdc" stroke-width="0.5"/>
<line x1="403.8" y1="77.97" x2="519" y2="47.97" stroke="#dcdcdc" stroke-width="0.5"/>
<line x1="519" y1="47.97" x2="606.1" y2="86.88" stroke="#dcdcdc" stroke-width="0.5"/>
<line x1="403.8" y1="32.3" x2="519" y2="2.3" stroke="#dcdcdc" stroke-width="0.5"/>
<line x1="519" y1="2.3" x2="606.1" y2="41.2" stroke="#dcdcdc" stroke-width="0.5"/>
<line x1="403.8" y1="215" x2="403.8" y2="32.3" stroke="#dcdcdc" stroke-width="0.5"/>
<line x1="606.1" y1="223.9" x2="606.1" y2="41.2" stroke="#dcdcdc" stroke-width="0.5"/>
<line x1="490.9" y1="253.9" x2="403.8" y2="215" stroke="#dcdcdc" stroke-width="0.5"/>
<line x1="490.9" y1="253.9" x2="606.1" y2="223.9" stroke="#dcdcdc" stroke-width="0.5"/>
<line x1="461.4" y1="200" x2="461.4" y2="17.3" stroke="#dcdcdc" stroke-width="0.5"/>
<line x1="562.55" y1="204.45" x2="562.55" y2="21.75" stroke="#dcdcdc" stroke-width="0.5"/>
<line x1="548.5" y1="238.9" x2="461.4" y2="200" stroke="#dcdcdc" stroke-width="0.5"/>
<line x1="447.35" y1="234.45" x2="562.55" y2="204.45" stroke="#dcdcdc" stroke-width="0.5"/>
<line x1="519" y1="185" x2="519" y2="2.3" stroke="#dcdcdc" stroke-width="0.5"/>
<line x1="519" y1="185" x2="519" y2="2.3" stroke="#dcdcdc" stroke-width="0.5"/>
<line x1="606.1" y1="223.9" x2="519" y2="185" stroke="#dcdcdc" stroke-width="0.5"/>
<line x1="403.8" y1="215" x2="519" y2="185" stroke="#dcdcdc" stroke-width="0.5"/>
<polygon points="409.51,213.85 518.95,185.35 602.36,222.31 492.92,250.81" fill="#55c878"/>
<path d="M557.09 206.3L562.85 204.8L567.24 206.75L561.48 208.25ZM544.2 212.75L549.96 211.25L554.35 213.19L548.59 214.69ZM549.96 211.25L555.72 209.75L560.11 211.69L554.35 213.19ZM555.72 209.75L561.48 208.25L565.87 210.19L560.11 211.69ZM561.48 208.25L567.24 206.75L571.63 208.69L565.87 210.19ZM531.31 219.19L537.07 217.69L541.46 219.63L535.7 221.13ZM537.07 217.69L542.83 216.19L547.22 218.13L541.46 219.63ZM542.83 216.19L548.59 214.69L552.98 216.63L547.22 218.13ZM548.59 214.69L554.35 213.19L558.74 215.13L552.98 216.63ZM554.35 213.19L560.11 211.69L564.5 213.63L558.74 215.13ZM560.11 211.69L565.87 210.19L570.26 212.13L564.5 213.63ZM565.87 210.19L571.63 208.69L576.02 210.63L570.26 212.13ZM518.42 225.63L524.18 224.13L528.57 226.08L522.81 227.58ZM524.18 224.13L529.94 222.63L534.33 224.58L528.57 226.08ZM529.94 222.63L535.7 221.13L540.09 223.08L534.33 224.58ZM535.7 221.13L541.46 219.63L545.85 221.58L540.09 223.08ZM541.46 219.63L547.22 218.13L551.61 220.08L545.85 221.58ZM547.22 218.13L552.98 216.63L557.37 218.58L551.61 220.08ZM552.98 216.63L558.74 215.13L563.13 217.08L557.37 218.58ZM558.74 215.13L564.5 213.63L568.89 215.58L563.13 217.08ZM564.5 213.63L570.26 212.13L574.65 214.08L568.89 215.58ZM570.26 212.13L576.02 210.63L580.41 212.58L574.65 214.08ZM511.29 230.58L517.05 229.08L521.44 231.03L515.68 232.53ZM517.05 229.08L522.81 227.58L527.2 229.53L521.44 231.03ZM522.81 227.58L528.57 226.08L532.96 228.03L527.2 229.53ZM528.57 226.08L534.33 224.58L538.72 226.53L532.96 228.03ZM534.33 224.58L540.09 223.08L544.48 225.03L538.72 226.53ZM540.09 223.08L545.85 221.58L550.24 223.53L544.48 225.03ZM545.85 221.58L551.61 220.08L556 222.03L550.24 223.53ZM551.61 220.08L557.37 218.58L561.76 220.53L556 222.03ZM557.37 218.58L563.13 217.08L567.52 219.03L561.76 220.53ZM563.13 217.08L568.89 215.58L573.28 217.53L567.52 219.03ZM568.89 215.58L574.65 214.08L579.04 216.03L573.28 217.53ZM574.65 214.08L580.41 212.58L584.8 214.53L579.04 216.03ZM515.68 232.53L521.44 231.03L525.83 232.97L520.07 234.47ZM521.44 231.03L527.2 229.53L531.59 231.47L525.83 232.97ZM527.2 229.53L532.96 228.03L537.35 229.97L531.59 231.47ZM532.96 228.03L538.72 226.53L543.11 228.47L537.35 229.97ZM538.72 226.53L544.48 225.03L548.87 226.97L543.11 228.47ZM544.48 225.03L550.24 223.53L554.63 225.47L548.87 226.97ZM550.24 223.53L556 222.03L560.39 223.97L554.63 225.47ZM556 222.03L561.76 220.53L566.15 222.47L560.39 223.97ZM561.76 220.53L567.52 219.03L571.91 220.97L566.15 222.47ZM567.52 219.03L573.28 217.53L577.67 219.47L571.91 220.97ZM573.28 217.53L579.04 216.03L583.43 217.97L577.67 219.47ZM579.04 216.03L584.8 214.53L589.19 216.47L583.43 217.97ZM520.07 234.47L525.83 232.97L530.22 234.91L524.46 236.41ZM525.83 232.97L531.59 231.47L535.98 233.41L530.22 234.91ZM531.59 231.47L537.35 229.97L541.74 231.91L535.98 233.41ZM537.35 229.97L543.11 228.47L547.5 230.41L541.74 231.91ZM543.11 228.47L548.87 226.97L553.26 228.91L547.5 230.41ZM548.87 226.97L554.63 225.47L559.02 227.41L553.26 228.91ZM554.63 225.47L560.39 223.97L564.78 225.91L559.02 227.41ZM560.39 223.97L566.15 222.47L570.54 224.41L564.78 225.91ZM566.15 222.47L571.91 220.97L576.3 222.91L570.54 224.41ZM571.91 220.97L577.67 219.47L582.06 221.41L576.3 222.91ZM577.67 219.47L583.43 217.97L587.82 219.91L582.06 221.41ZM583.43 217.97L589.19 216.47L593.58 218.41L587.82 219.91ZM524.46 236.41L530.22 234.91L534.61 236.86L528.85 238.36ZM530.22 234.91L535.98 233.41L540.37 235.36L534.61 236.86ZM535.98 233.41L541.74 231.91L546.13 233.86L540.37 235.36ZM541.74 231.91L547.5 230.41L551.89 232.36L546.13 233.86ZM547.5 230.41L553.26 228.91L557.65 230.86L551.89 232.36ZM553.26 228.91L559.02 227.41L563.41 229.36L557.65 230.86ZM559.02 227.41L564.78 225.91L569.17 227.86L563.41 229.36ZM564.78 225.91L570.54 224.41L574.93 226.36L569.17 227.86ZM570.54 224.41L576.3 222.91L580.69 224.86L574.93 226.36ZM576.3 222.91L582.06 221.41L586.45 223.36L580.69 224.86ZM582.06 221.41L587.82 219.91L592.21 221.86L586.45 223.36ZM587.82 219.91L593.58 218.41L597.97 220.36L592.21 221.86ZM523.09 239.86L528.85 238.36L533.24 240.31L527.48 241.81ZM528.85 238.36L534.61 236.86L539 238.81L533.24 240.31ZM534.61 236.86L540.37 235.36L544.76 237.31L539 238.81ZM540.37 235.36L546.13 233.86L550.52 235.81L544.76 237.31ZM546.13 233.86L551.89 232.36L556.28 234.31L550.52 235.81ZM551.89 232.36L557.65 230.86L562.04 232.81L556.28 234.31ZM557.65 230.86L563.41 229.36L567.8 231.31L562.04 232.81ZM563.41 229.36L569.17 227.86L573.56 229.81L567.8 231.31ZM569.17 227.86L574.93 226.36L579.32 228.31L573.56 229.81ZM574.93 226.36L580.69 224.86L585.08 226.81L579.32 228.31ZM580.69 224.86L586.45 223.36L590.84 225.31L585.08 226.81ZM586.45 223.36L592.21 221.86L596.6 223.81L590.84 225.31ZM592.21 221.86L597.97 220.36L602.36 222.31L596.6 223.81Z" fill="#2d8cf0" stroke="#2d8cf0" stroke-width="0.3"/>
<path d="M466.58 239.13L472.34 237.63L476.73 239.58L470.97 241.08ZM472.34 237.63L478.1 236.13L482.49 238.08L476.73 239.58ZM478.1 236.13L483.86 234.63L488.25 236.58L482.49 238.08ZM483.86 234.63L489.62 233.13L494.01 235.08L488.25 236.58ZM489.62 233.13L495.38 231.63L499.77 233.58L494.01 235.08ZM495.38 231.63L501.14 230.13L505.53 232.08L499.77 233.58ZM501.14 230.13L506.9 228.63L511.29 230.58L505.53 232.08ZM506.9 228.63L512.66 227.13L517.05 229.08L511.29 230.58ZM470.97 241.08L476.73 239.58L481.12 241.53L475.36 243.03ZM476.73 239.58L482.49 238.08L486.88 240.03L481.12 241.53ZM482.49 238.08L488.25 236.58L492.64 238.53L486.88 240.03ZM488.25 236.58L494.01 235.08L498.4 237.03L492.64 238.53ZM494.01 235.08L499.77 233.58L504.16 235.53L498.4 237.03ZM499.77 233.58L505.53 232.08L509.92 234.03L504.16 235.53ZM505.53 232.08L511.29 230.58L515.68 232.53L509.92 234.03ZM475.36 243.03L481.12 241.53L485.51 243.47L479.75 244.97ZM481.12 241.53L486.88 240.03L491.27 241.97L485.51 243.47ZM486.88 240.03L492.64 238.53L497.03 240.47L491.27 241.97ZM492.64 238.53L498.4 237.03L502.79 238.97L497.03 240.47ZM498.4 237.03L504.16 235.53L508.55 237.47L502.79 238.97ZM504.16 235.53L509.92 234.03L514.31 235.97L508.55 237.47ZM509.92 234.03L515.68 232.53L520.07 234.47L514.31 235.97ZM479.75 244.97L485.51 243.47L489.9 245.41L484.14 246.91ZM485.51 243.47L491.27 241.97L495.66 243.91L489.9 245.41ZM491.27 241.97L497.03 240.47L501.42 242.41L495.66 243.91ZM497.03 240.47L502.79 238.97L507.18 240.91L501.42 242.41ZM502.79 238.97L508.55 237.47L512.94 239.41L507.18 240.91ZM508.55 237.47L514.31 235.97L518.7 237.91L512.94 239.41ZM514.31 235.97L520.07 234.47L524.46 236.41L518.7 237.91ZM484.14 246.91L489.9 245.41L494.29 247.36L488.53 248.86ZM489.9 245.41L495.66 243.91L500.05 245.86L494.29 247.36ZM495.66 243.91L501.42 242.41L505.81 244.36L500.05 245.86ZM501.42 242.41L507.18 240.91L511.57 242.86L505.81 244.36ZM507.18 240.91L512.94 239.41L517.33 241.36L511.57 242.86ZM512.94 239.41L518.7 237.91L523.09 239.86L517.33 241.36ZM488.53 248.86L494.29 247.36L498.68 249.31L492.92 250.81ZM494.29 247.36L500.05 245.86L504.44 247.81L498.68 249.31ZM500.05 245.86L505.81 244.36L510.2 246.31L504.44 247.81ZM505.81 244.36L511.57 242.86L515.96 244.81L510.2 246.31ZM511.57 242.86L517.33 241.36L521.72 243.31L515.96 244.81ZM517.33 241.36L523.09 239.86L527.48 241.81L521.72 243.31Z" fill="#f9d52e" stroke="#f9d52e" stroke-width="0.3"/>
<path d="M518.7 237.91L524.46 236.41L528.85 238.36L523.09 239.86Z" fill="#3d26a8" stroke="#3d26a8" stroke-width="0.3"/>
<path d="M492.92 250.81L602.36 222.31M488.53 248.86L597.97 220.36M484.14 246.91L593.58 218.41M479.75 244.97L589.19 216.47M475.36 243.03L584.8 214.53M470.97 241.08L580.41 212.58M466.58 239.13L576.02 210.63M462.19 237.19L571.63 208.69M457.8 235.25L567.24 206.75M453.41 233.3L562.85 204.8M449.02 231.35L558.46 202.85M444.63 229.41L554.07 200.91M440.24 227.47L549.68 198.97M435.85 225.52L545.29 197.02M431.46 223.57L540.9 195.07M427.07 221.63L536.51 193.13M422.68 219.69L532.12 191.19M418.29 217.74L527.73 189.24M413.9 215.79L523.34 187.29M409.51 213.85L518.95 185.35M492.92 250.81L409.51 213.85M498.68 249.31L415.27 212.35M504.44 247.81L421.03 210.85M510.2 246.31L426.79 209.35M515.96 244.81L432.55 207.85M521.72 243.31L438.31 206.35M527.48 241.81L444.07 204.85M533.24 240.31L449.83 203.35M539 238.81L455.59 201.85M544.76 237.31L461.35 200.35M550.52 235.81L467.11 198.85M556.28 234.31L472.87 197.35M562.04 232.81L478.63 195.85M567.8 231.31L484.39 194.35M573.56 229.81L490.15 192.85M579.32 228.31L495.91 191.35M585.08 226.81L501.67 189.85M590.84 225.31L507.43 188.35M596.6 223.81L513.19 186.85M602.36 222.31L518.95 185.35" fill="none" stroke="#000" stroke-width="0.5" stroke-linecap="square"/>
<polygon points="409.51,168.18 518.95,139.68 602.36,176.63 492.92,205.13" fill="#f9d52e"/>
<path d="M409.51 168.18L415.27 166.68L419.66 168.62L413.9 170.12ZM415.27 166.68L421.03 165.18L425.42 167.12L419.66 168.62ZM421.03 165.18L426.79 163.68L431.18 165.62L425.42 167.12ZM426.79 163.68L432.55 162.18L436.94 164.12L431.18 165.62ZM432.55 162.18L438.31 160.68L442.7 162.62L436.94 164.12ZM438.31 160.68L444.07 159.18L448.46 161.12L442.7 162.62ZM444.07 159.18L449.83 157.68L454.22 159.62L448.46 161.12ZM449.83 157.68L455.59 156.18L459.98 158.12L454.22 159.62ZM455.59 156.18L461.35 154.68L465.74 156.62L459.98 158.12ZM461.35 154.68L467.11 153.18L471.5 155.12L465.74 156.62ZM467.11 153.18L472.87 151.68L477.26 153.62L471.5 155.12ZM472.87 151.68L478.63 150.18L483.02 152.12L477.26 153.62ZM478.63 150.18L484.39 148.68L488.78 150.62L483.02 152.12ZM484.39 148.68L490.15 147.18L494.54 149.12L488.78 150.62ZM490.15 147.18L495.91 145.68L500.3 147.62L494.54 149.12ZM495.91 145.68L501.67 144.18L506.06 146.12L500.3 147.62ZM501.67 144.18L507.43 142.68L511.82 144.62L506.06 146.12ZM507.43 142.68L513.19 141.18L517.58 143.12L511.82 144.62ZM513.19 141.18L518.95 139.68L523.34 141.62L517.58 143.12ZM413.9 170.12L419.66 168.62L424.05 170.56L418.29 172.06ZM419.66 168.62L425.42 167.12L429.81 169.06L424.05 170.56ZM425.42 167.12L431.18 165.62L435.57 167.56L429.81 169.06ZM431.18 165.62L436.94 164.12L441.33 166.06L435.57 167.56ZM436.94 164.12L442.7 162.62L447.09 164.56L441.33 166.06ZM442.7 162.62L448.46 161.12L452.85 163.06L447.09 164.56ZM448.46 161.12L454.22 159.62L458.61 161.56L452.85 163.06ZM454.22 159.62L459.98 158.12L464.37 160.06L458.61 161.56ZM459.98 158.12L465.74 156.62L470.13 158.56L464.37 160.06ZM465.74 156.62L471.5 155.12L475.89 157.06L470.13 158.56ZM471.5 155.12L477.26 153.62L481.65 155.56L475.89 157.06ZM477.26 153.62L483.02 152.12L487.41 154.06L481.65 155.56ZM483.02 152.12L488.78 150.62L493.17 152.56L487.41 154.06ZM488.78 150.62L494.54 149.12L498.93 151.06L493.17 152.56ZM494.54 149.12L500.3 147.62L504.69 149.56L498.93 151.06ZM500.3 147.62L506.06 146.12L510.45 148.06L504.69 149.56ZM506.06 146.12L511.82 144.62L516.21 146.56L510.45 148.06ZM511.82 144.62L517.58 143.12L521.97 145.06L516.21 146.56ZM517.58 143.12L523.34 141.62L527.73 143.56L521.97 145.06ZM475.89 157.06L481.65 155.56L486.04 157.51L480.28 159.01ZM481.65 155.56L487.41 154.06L491.8 156.01L486.04 157.51ZM487.41 154.06L493.17 152.56L497.56 154.51L491.8 156.01ZM493.17 152.56L498.93 151.06L503.32 153.01L497.56 154.51ZM498.93 151.06L504.69 149.56L509.08 151.51L503.32 153.01ZM504.69 149.56L510.45 148.06L514.84 150.01L509.08 151.51ZM510.45 148.06L516.21 146.56L520.6 148.51L514.84 150.01ZM516.21 146.56L521.97 145.06L526.36 147.01L520.6 148.51ZM521.97 145.06L527.73 143.56L532.12 145.51L526.36 147.01Z" fill="#55c878" stroke="#55c878" stroke-width="0.3"/>
<path d="M452.85 163.06L458.61 161.56L463 163.51L457.24 165.01ZM458.61 161.56L464.37 160.06L468.76 162.01L463 163.51ZM464.37 160.06L470.13 158.56L474.52 160.51L468.76 162.01ZM470.13 158.56L475.89 157.06L480.28 159.01L474.52 160.51ZM573.28 171.85L579.04 170.35L583.43 172.3L577.67 173.8ZM577.67 173.8L583.43 172.3L587.82 174.24L582.06 175.74Z" fill="#3d26a8" stroke="#3d26a8" stroke-width="0.3"/>
<path d="M565.87 164.51L571.63 163.01L576.02 164.96L570.26 166.46ZM570.26 166.46L576.02 164.96L580.41 166.9L574.65 168.4ZM574.65 168.4L580.41 166.9L584.8 168.85L579.04 170.35ZM579.04 170.35L584.8 168.85L589.19 170.8L583.43 172.3ZM583.43 172.3L589.19 170.8L593.58 172.74L587.82 174.24ZM582.06 175.74L587.82 174.24L592.21 176.19L586.45 177.69ZM587.82 174.24L593.58 172.74L597.97 174.69L592.21 176.19ZM586.45 177.69L592.21 176.19L596.6 178.13L590.84 179.63ZM592.21 176.19L597.97 174.69L602.36 176.63L596.6 178.13Z" fill="#2d8cf0" stroke="#2d8cf0" stroke-width="0.3"/>
<path d="M492.92 205.13L602.36 176.63M488.53 203.19L597.97 174.69M484.14 201.24L593.58 172.74M479.75 199.3L589.19 170.8M475.36 197.35L584.8 168.85M470.97 195.4L580.41 166.9M466.58 193.46L576.02 164.96M462.19 191.51L571.63 163.01M457.8 189.57L567.24 161.07M453.41 187.62L562.85 159.12M449.02 185.68L558.46 157.18M444.63 183.74L554.07 155.24M440.24 181.79L549.68 153.29M435.85 179.84L545.29 151.34M431.46 177.9L540.9 149.4M427.07 175.95L536.51 147.45M422.68 174.01L532.12 145.51M418.29 172.06L527.73 143.56M413.9 170.12L523.34 141.62M409.51 168.18L518.95 139.68M492.92 205.13L409.51 168.18M498.68 203.63L415.27 166.68M504.44 202.13L421.03 165.18M510.2 200.63L426.79 163.68M515.96 199.13L432.55 162.18M521.72 197.63L438.31 160.68M527.48 196.13L444.07 159.18M533.24 194.63L449.83 157.68M539 193.13L455.59 156.18M544.76 191.63L461.35 154.68M550.52 190.13L467.11 153.18M556.28 188.63L472.87 151.68M562.04 187.13L478.63 150.18M567.8 185.63L484.39 148.68M573.56 184.13L490.15 147.18M579.32 182.63L495.91 145.68M585.08 181.13L501.67 144.18M590.84 179.63L507.43 142.68M596.6 178.13L513.19 141.18M602.36 176.63L518.95 139.68" fill="none" stroke="#000" stroke-width="0.5" stroke-linecap="square"/>
<polygon points="409.51,122.5 518.95,94 602.36,130.96 492.92,159.46" fill="#f9d52e"/>
<path d="M492.92 159.46L602.36 130.96M488.53 157.51L597.97 129.01M484.14 155.56L593.58 127.07M479.75 153.62L589.19 125.12M475.36 151.68L584.8 123.18M470.97 149.73L580.41 121.23M466.58 147.79L576.02 119.29M462.19 145.84L571.63 117.34M457.8 143.9L567.24 115.4M453.41 141.95L562.85 113.45M449.02 140L558.46 111.51M444.63 138.06L554.07 109.56M440.24 136.12L549.68 107.62M435.85 134.17L545.29 105.67M431.46 132.23L540.9 103.73M427.07 130.28L536.51 101.78M422.68 128.34L532.12 99.84M418.29 126.39L527.73 97.89M413.9 124.45L523.34 95.95M409.51 122.5L518.95 94M492.92 159.46L409.51 122.5M498.68 157.96L415.27 121M504.44 156.46L421.03 119.5M510.2 154.96L426.79 118M515.96 153.46L432.55 116.5M521.72 151.96L438.31 115M527.48 150.46L444.07 113.5M533.24 148.96L449.83 112M539 147.46L455.59 110.5M544.76 145.96L461.35 109M550.52 144.46L467.11 107.5M556.28 142.96L472.87 106M562.04 141.46L478.63 104.5M567.8 139.96L484.39 103M573.56 138.46L490.15 101.5M579.32 136.96L495.91 100M585.08 135.46L501.67 98.5M590.84 133.96L507.43 97M596.6 132.46L513.19 95.5M602.36 130.96L518.95 94" fill="none" stroke="#000" stroke-width="0.5" stroke-linecap="square"/>
<polygon points="409.51,76.82 518.95,48.32 602.36,85.28 492.92,113.78" fill="#f9d52e"/>
<path d="M492.92 113.78L602.36 85.28M488.53 111.84L597.97 83.34M484.14 109.89L593.58 81.39M479.75 107.94L589.19 79.44M475.36 106L584.8 77.5M470.97 104.05L580.41 75.55M466.58 102.11L576.02 73.61M462.19 100.16L571.63 71.66M457.8 98.22L567.24 69.72M453.41 96.28L562.85 67.78M449.02 94.33L558.46 65.83M444.63 92.38L554.07 63.88M440.24 90.44L549.68 61.94M435.85 88.49L545.29 59.99M431.46 86.55L540.9 58.05M427.07 84.6L536.51 56.1M422.68 82.66L532.12 54.16M418.29 80.72L527.73 52.22M413.9 78.77L523.34 50.27M409.51 76.82L518.95 48.32M492.92 113.78L409.51 76.82M498.68 112.28L415.27 75.32M504.44 110.78L421.03 73.82M510.2 109.28L426.79 72.32M515.96 107.78L432.55 70.82M521.72 106.28L438.31 69.32M527.48 104.78L444.07 67.82M533.24 103.28L449.83 66.32M539 101.78L455.59 64.82M544.76 100.28L461.35 63.32M550.52 98.78L467.11 61.82M556.28 97.28L472.87 60.32M562.04 95.78L478.63 58.82M567.8 94.28L484.39 57.32M573.56 92.78L490.15 55.82M579.32 91.28L495.91 54.32M585.08 89.78L501.67 52.82M590.84 88.28L507.43 51.32M596.6 86.78L513.19 49.82M602.36 85.28L518.95 48.32" fill="none" stroke="#000" stroke-width="0.5" stroke-linecap="square"/>
<polygon points="409.51,31.15 518.95,2.65 602.36,39.61 492.92,68.11" fill="#f9d52e"/>
<path d="M492.92 68.11L602.36 39.61M488.53 66.16L597.97 37.66M484.14 64.22L593.58 35.72M479.75 62.27L589.19 33.77M475.36 60.33L584.8 31.83M470.97 58.38L580.41 29.88M466.58 56.44L576.02 27.94M462.19 54.49L571.63 25.99M457.8 52.55L567.24 24.05M453.41 50.6L562.85 22.1M449.02 48.66L558.46 20.16M444.63 46.71L554.07 18.21M440.24 44.77L549.68 16.27M435.85 42.82L545.29 14.32M431.46 40.88L540.9 12.38M427.07 38.93L536.51 10.43M422.68 36.99L532.12 8.49M418.29 35.04L527.73 6.54M413.9 33.09L523.34 4.59M409.51 31.15L518.95 2.65M492.92 68.11L409.51 31.15M498.68 66.61L415.27 29.65M504.44 65.11L421.03 28.15M510.2 63.61L426.79 26.65M515.96 62.11L432.55 25.15M521.72 60.61L438.31 23.65M527.48 59.11L444.07 22.15M533.24 57.61L449.83 20.65M539 56.11L455.59 19.15M544.76 54.61L461.35 17.65M550.52 53.11L467.11 16.15M556.28 51.61L472.87 14.65M562.04 50.11L478.63 13.15M567.8 48.61L484.39 11.65M573.56 47.11L490.15 10.15M579.32 45.61L495.91 8.65M585.08 44.11L501.67 7.15M590.84 42.61L507.43 5.65M596.6 41.11L513.19 4.15M602.36 39.61L518.95 2.65" fill="none" stroke="#000" stroke-width="0.5" stroke-linecap="square"/>
<line x1="404" y1="215" x2="404" y2="32.3" stroke="#262626" stroke-width="0.64"/>
<line x1="490.9" y1="253.9" x2="403.8" y2="215" stroke="#262626" stroke-width="0.65"/>
<line x1="490.9" y1="253.9" x2="606.1" y2="223.9" stroke="#262626" stroke-width="0.65"/>
<line x1="403.8" y1="215" x2="399.6" y2="213.12" stroke="#262626" stroke-width="0.6"/>
<line x1="403.8" y1="169.32" x2="399.6" y2="167.45" stroke="#262626" stroke-width="0.6"/>
<line x1="403.8" y1="123.65" x2="399.6" y2="121.77" stroke="#262626" stroke-width="0.6"/>
<line x1="403.8" y1="77.97" x2="399.6" y2="76.1" stroke="#262626" stroke-width="0.6"/>
<line x1="403.8" y1="32.3" x2="399.6" y2="30.42" stroke="#262626" stroke-width="0.6"/>
<line x1="490.9" y1="253.9" x2="486.45" y2="255.06" stroke="#262626" stroke-width="0.6"/>
<line x1="447.35" y1="234.45" x2="442.9" y2="235.61" stroke="#262626" stroke-width="0.6"/>
<line x1="403.8" y1="215" x2="399.35" y2="216.16" stroke="#262626" stroke-width="0.6"/>
<line x1="490.9" y1="253.9" x2="495.1" y2="255.78" stroke="#262626" stroke-width="0.6"/>
<line x1="548.5" y1="238.9" x2="552.7" y2="240.78" stroke="#262626" stroke-width="0.6"/>
<line x1="606.1" y1="223.9" x2="610.3" y2="225.78" stroke="#262626" stroke-width="0.6"/>
<rect x="277.3" y="2.6" width="18.1" height="63.7" fill="#f9d52e"/>
<rect x="277.3" y="66" width="18.1" height="63" fill="#55c878"/>
<rect x="277.3" y="128.7" width="18.1" height="63.2" fill="#2d8cf0"/>
<rect x="277.3" y="191.6" width="18.1" height="62" fill="#3d26a8"/>
<rect x="277.3" y="2.6" width="18.1" height="251" fill="none" stroke="#262626" stroke-width="0.6"/>
<line x1="292.6" y1="34.48" x2="295.4" y2="34.48" stroke="#262626" stroke-width="0.6"/>
<line x1="292.6" y1="97.22" x2="295.4" y2="97.22" stroke="#262626" stroke-width="0.6"/>
<line x1="292.6" y1="159.97" x2="295.4" y2="159.97" stroke="#262626" stroke-width="0.6"/>
<line x1="292.6" y1="222.72" x2="295.4" y2="222.72" stroke="#262626" stroke-width="0.6"/>
<rect x="635.05" y="2.6" width="18.1" height="63.7" fill="#f9d52e"/>
<rect x="635.05" y="66" width="18.1" height="63" fill="#55c878"/>
<rect x="635.05" y="128.7" width="18.1" height="63.2" fill="#2d8cf0"/>
<rect x="635.05" y="191.6" width="18.1" height="62" fill="#3d26a8"/>
<rect x="635.05" y="2.6" width="18.1" height="251" fill="none" stroke="#262626" stroke-width="0.6"/>
<line x1="650.35" y1="34.48" x2="653.15" y2="34.48" stroke="#262626" stroke-width="0.6"/>
<line x1="650.35" y1="97.22" x2="653.15" y2="97.22" stroke="#262626" stroke-width="0.6"/>
<line x1="650.35" y1="159.97" x2="653.15" y2="159.97" stroke="#262626" stroke-width="0.6"/>
<line x1="650.35" y1="222.72" x2="653.15" y2="222.72" stroke="#262626" stroke-width="0.6"/>
<text x="37.55" y="215.8" text-anchor="end">0</text>
<text x="37.55" y="179.26" text-anchor="end">0.2</text>
<text x="37.55" y="142.72" text-anchor="end">0.4</text>
<text x="37.55" y="106.18" text-anchor="end">0.6</text>
<text x="37.55" y="69.64" text-anchor="end">0.8</text>
<text x="37.55" y="33.1" text-anchor="end">1</text>
<text x="124.67" y="267.01" text-anchor="end">0</text>
<text x="81.12" y="247.56" text-anchor="end">0.5</text>
<text x="37.57" y="228.11" text-anchor="end">1</text>
<text x="142.15" y="268.62" text-anchor="start">0</text>
<text x="199.75" y="253.62" text-anchor="start">0.5</text>
<text x="257.35" y="238.62" text-anchor="start">1</text>
<text x="395.45" y="215.8" text-anchor="end">0.2</text>
<text x="395.45" y="170.12" text-anchor="end">0.4</text>
<text x="395.45" y="124.45" text-anchor="end">0.6</text>
<text x="395.45" y="78.77" text-anchor="end">0.8</text>
<text x="395.45" y="33.1" text-anchor="end">1</text>
<text x="482.57" y="267.01" text-anchor="end">0</text>
<text x="439.02" y="247.56" text-anchor="end">0.5</text>
<text x="395.47" y="228.11" text-anchor="end">1</text>
<text x="500.05" y="268.62" text-anchor="start">0</text>
<text x="557.65" y="253.62" text-anchor="start">0.5</text>
<text x="615.25" y="238.62" text-anchor="start">1</text>
<text x="299.3" y="38.98" text-anchor="start">3</text>
<text x="299.3" y="101.72" text-anchor="start">2</text>
<text x="299.3" y="164.47" text-anchor="start">1</text>
<text x="299.3" y="227.22" text-anchor="start" textLength="28.1" lengthAdjust="spacingAndGlyphs">mixed</text>
<text x="657.65" y="38.98" text-anchor="start">3</text>
<text x="657.65" y="101.72" text-anchor="start">2</text>
<text x="657.65" y="164.47" text-anchor="start">1</text>
<text x="657.65" y="227.22" text-anchor="start" textLength="28.1" lengthAdjust="spacingAndGlyphs">mixed</text>
<text x="63.4" y="274.7" style="font-size:12px" text-anchor="start">N<tspan style="font-size:10.2px" dx="0.3" dy="6.4">2</tspan></text>
<text x="196.8" y="277" style="font-size:12px" text-anchor="start">N<tspan style="font-size:10.2px" dx="0.3" dy="6.4">1</tspan></text>
<text x="9.7" y="130.9" style="font-size:12px" text-anchor="start" transform="rotate(-90 9.7 130.9)">N<tspan style="font-size:10.2px" dx="0.3" dy="6.4">3</tspan></text>
<text x="421.3" y="274.7" style="font-size:12px" text-anchor="start">N<tspan style="font-size:10.2px" dx="0.3" dy="6.4">2</tspan></text>
<text x="554.7" y="277" style="font-size:12px" text-anchor="start">N<tspan style="font-size:10.2px" dx="0.3" dy="6.4">1</tspan></text>
<text x="367.6" y="130.9" style="font-size:12px" text-anchor="start" transform="rotate(-90 367.6 130.9)">N<tspan style="font-size:10.2px" dx="0.3" dy="6.4">3</tspan></text>
</svg>
</body></html>
